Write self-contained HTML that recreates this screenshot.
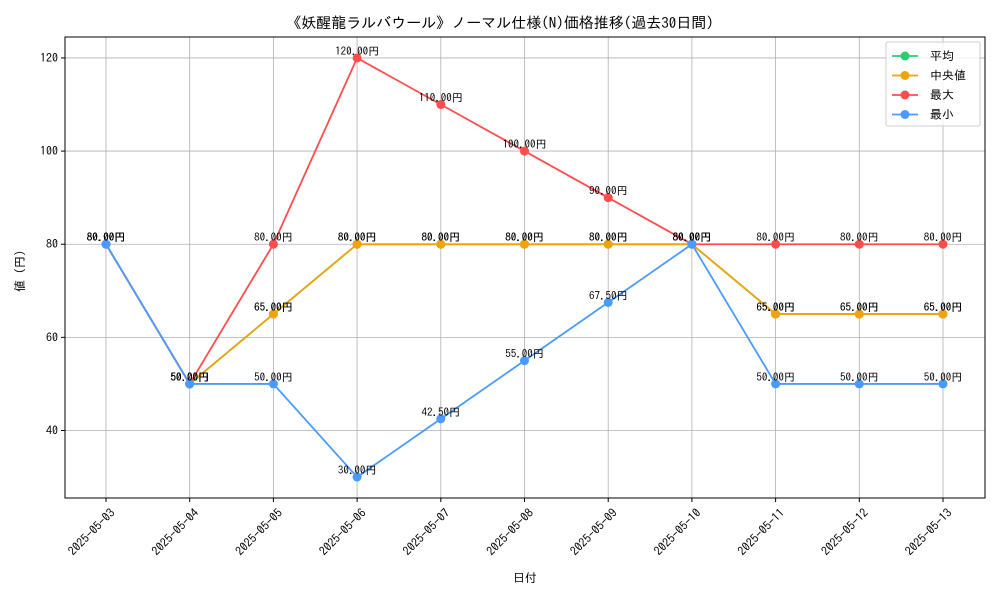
<!DOCTYPE html>
<html><head><meta charset="utf-8"><style>
body{margin:0;background:#fff}
svg text{font-family:"IPAGothic","Noto Sans CJK JP",sans-serif;fill:#000}
</style></head><body>
<svg id="chart" width="1000" height="600" xmlns="http://www.w3.org/2000/svg">
<rect width="1000" height="600" fill="#fff"/>
<text x="500" y="28" font-size="15" text-anchor="middle">《妖醒龍ラルバウール》ノーマル仕様(N)価格推移(過去30日間)</text>
<text transform="translate(24,268) rotate(-90)" font-size="12" text-anchor="middle">値（円）</text>
<text x="525" y="582" font-size="12" text-anchor="middle">日付</text>
<g id="grid"></g><g id="axes"></g><g id="series"></g><g id="labels"></g>
<g>
<rect x="886" y="42" width="94" height="84" fill="#fff" fill-opacity="0.8" stroke="#ccc" rx="2"/>
<g id="legend"></g></g>
</svg>
<script>
const dates=["2025-05-03","2025-05-04","2025-05-05","2025-05-06","2025-05-07","2025-05-08","2025-05-09","2025-05-10","2025-05-11","2025-05-12","2025-05-13"];
const meanVals=[80,50,65,80,80,80,80,80,65,65,65];
const medianVals=[80,50,65,80,80,80,80,80,65,65,65];
const maxVals=[80,50,80,120,110,100,90,80,80,80,80];
const minVals=[80,50,50,30,42.5,55,67.5,80,50,50,50];
const yTicks=[40,60,80,100,120];
const seriesNames=["平均","中央値","最大","最小"];
const seriesColors=["#2ecc71","#f0a30a","#ff4d4d","#4a9bff"];
const NS="http://www.w3.org/2000/svg";
const L=65,R=985,T=37,B=498,YMIN=25.5,YMAX=124.5;
const x=i=>106+i*(943-106)/(dates.length-1);
const y=v=>B-(v-YMIN)/(YMAX-YMIN)*(B-T);
function mk(tag,attrs,parent){const e=document.createElementNS(NS,tag);for(const k in attrs)e.setAttribute(k,attrs[k]);parent.appendChild(e);return e;}
const grid=document.getElementById('grid'),axes=document.getElementById('axes'),ser=document.getElementById('series'),lab=document.getElementById('labels'),leg=document.getElementById('legend');
dates.forEach((d,i)=>{
 const g=mk('line',{x1:x(i),x2:x(i),y1:T,y2:B,stroke:'#b0b0b0','stroke-width':0.8},grid);
 
 
 mk('line',{x1:x(i),x2:x(i),y1:B,y2:B+4,stroke:'#000'},axes);
 const t=mk('text',{transform:`translate(${x(i)+4},${B+10}) rotate(-45)`,'font-size':12,'text-anchor':'end','dominant-baseline':'hanging'},axes);
 t.textContent=d;
 
 
});
yTicks.forEach(v=>{
 const g=mk('line',{x1:L,x2:R,y1:y(v),y2:y(v),stroke:'#b0b0b0','stroke-width':0.8},grid);
 
 
 mk('line',{x1:L-4,x2:L,y1:y(v),y2:y(v),stroke:'#000'},axes);
 const t=mk('text',{x:L-7,y:y(v)+4,'font-size':12,'text-anchor':'end'},axes);
 t.textContent=v;
 
 
});
const fr=mk('rect',{x:L,y:T,width:R-L,height:B-T,fill:'none',stroke:'#000','stroke-width':1},axes);


[meanVals,medianVals,maxVals,minVals].forEach((vals,s)=>{
 const p=mk('polyline',{points:vals.map((v,i)=>x(i)+','+y(v)).join(' '),fill:'none',stroke:seriesColors[s],'stroke-width':1.8},ser);
 
 
 vals.forEach((v,i)=>{
  const c=mk('circle',{cx:x(i),cy:y(v),r:4.5,fill:seriesColors[s]},ser);
  
  
  const t=mk('text',{x:x(i),y:y(v)-3,'font-size':11,'text-anchor':'middle'},lab);
  t.textContent=v.toFixed(2)+'円';
  
  
 });
 const ly=56+s*19.5;
 mk('line',{x1:892,x2:918,y1:ly,y2:ly,stroke:seriesColors[s],'stroke-width':1.8},leg);
 mk('circle',{cx:905,cy:ly,r:4.5,fill:seriesColors[s]},leg);
 const t=mk('text',{x:930,y:ly+4,'font-size':12},leg);
 t.textContent=seriesNames[s];
 
 
});
</script>
</body></html>
